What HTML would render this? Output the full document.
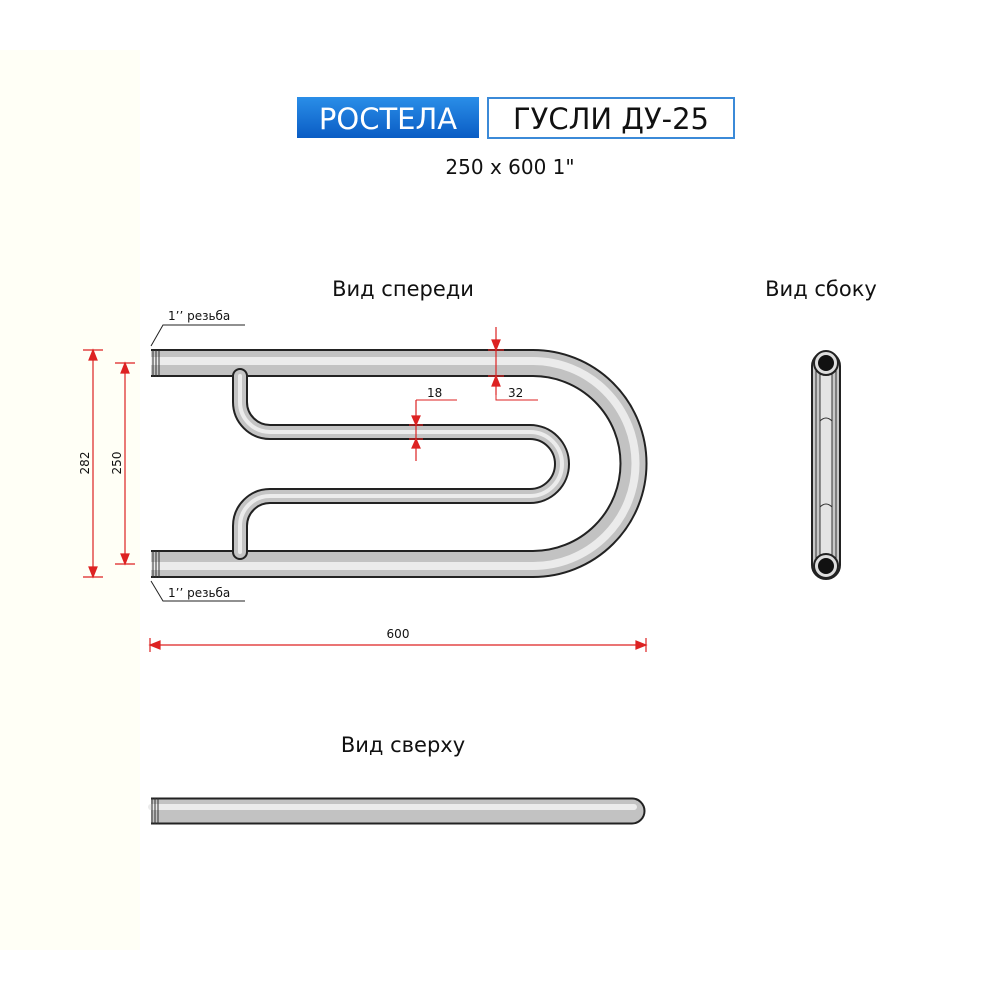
<!DOCTYPE html>
<html><head><meta charset="utf-8"><style>
html,body{margin:0;padding:0;background:#fff;}
svg{display:block;}
text{font-family:"DejaVu Sans","Liberation Sans",sans-serif;}
</style></head><body>
<svg width="1000" height="1000" viewBox="0 0 1000 1000" xmlns="http://www.w3.org/2000/svg">
<rect x="0" y="0" width="1000" height="1000" fill="#fff"/>
<rect x="0" y="50" width="140" height="900" fill="#fffff6"/>
<defs><linearGradient id="bl" x1="0" y1="0" x2="0" y2="1"><stop offset="0" stop-color="#2a8ee8"/><stop offset="1" stop-color="#0a5cc4"/></linearGradient></defs>
<rect x="297" y="97" width="182" height="41" fill="url(#bl)"/>
<text x="388" y="129" font-size="29" fill="#fff" text-anchor="middle">РОСТЕЛА</text>
<rect x="488" y="98" width="246" height="40" fill="#fff" stroke="#3b8ad8" stroke-width="2"/>
<text x="611" y="129" font-size="29" fill="#111" text-anchor="middle">ГУСЛИ ДУ-25</text>
<text x="510" y="174" font-size="20" fill="#111" text-anchor="middle">250 x 600 1"</text>
<text x="403" y="296" font-size="21" fill="#111" text-anchor="middle">Вид спереди</text>
<text x="821" y="296" font-size="21" fill="#111" text-anchor="middle">Вид сбоку</text>
<text x="403" y="752" font-size="21" fill="#111" text-anchor="middle">Вид сверху</text>

<!-- outer U -->
<g fill="none">
<path d="M151 363 H533 A100.5 100.5 0 0 1 533 564 H151" stroke="#222" stroke-width="28"/>
<path d="M151 363 H533 A100.5 100.5 0 0 1 533 564 H151" stroke="#c2c2c2" stroke-width="24"/>
<path d="M151 361 H533 A102.5 102.5 0 0 1 533 566 H151" stroke="#ebebeb" stroke-width="8"/>
</g>
<!-- inner serpentine -->
<g fill="none" stroke-linecap="round">
<path d="M240 376 V402 A30 30 0 0 0 270 432 H530 A32 32 0 0 1 530 496 H270 A30 30 0 0 0 240 526 V552" stroke="#222" stroke-width="16"/>
<path d="M240 376 V402 A30 30 0 0 0 270 432 H530 A32 32 0 0 1 530 496 H270 A30 30 0 0 0 240 526 V552" stroke="#c4c4c4" stroke-width="12"/>
<path d="M240 376 V402 A30 30 0 0 0 270 432 H530 A32 32 0 0 1 530 496 H270 A30 30 0 0 0 240 526 V552" stroke="#ececec" stroke-width="4"/>
</g>
<g stroke="#333" stroke-width="1">
<line x1="153" y1="350" x2="153" y2="377"/><line x1="156" y1="350" x2="156" y2="377"/><line x1="159" y1="350" x2="159" y2="377"/>
<line x1="153" y1="551" x2="153" y2="578"/><line x1="156" y1="551" x2="156" y2="578"/><line x1="159" y1="551" x2="159" y2="578"/>
</g>
<g fill="none" stroke="#222" stroke-width="1">
<polyline points="151,346 163,325 245,325"/>
<polyline points="151,581 163,601 245,601"/>
</g>
<text x="168" y="320" font-size="12" fill="#111">1’’ резьба</text>
<text x="168" y="597" font-size="12" fill="#111">1’’ резьба</text>

<g stroke="#d22" stroke-width="1.2" fill="#d22">
<line x1="93" y1="350" x2="93" y2="577"/>
<line x1="83" y1="350" x2="103" y2="350"/><line x1="83" y1="577" x2="103" y2="577"/>
<polygon points="93,350 89,360 97,360"/><polygon points="93,577 89,567 97,567"/>
<line x1="125" y1="363" x2="125" y2="564"/>
<line x1="115" y1="363" x2="135" y2="363"/><line x1="115" y1="564" x2="135" y2="564"/>
<polygon points="125,363 121,373 129,373"/><polygon points="125,564 121,554 129,554"/>
<line x1="150" y1="645" x2="646" y2="645"/>
<line x1="150" y1="638" x2="150" y2="652"/><line x1="646" y1="638" x2="646" y2="652"/>
<polygon points="150,645 160,641 160,649"/><polygon points="646,645 636,641 636,649"/>
<line x1="496" y1="327" x2="496" y2="395"/>
<line x1="488" y1="350" x2="504" y2="350"/><line x1="488" y1="376" x2="504" y2="376"/>
<polygon points="496,350 492,340 500,340"/><polygon points="496,376 492,386 500,386"/>
<line x1="416" y1="400" x2="416" y2="461"/>
<line x1="409" y1="425" x2="423" y2="425"/><line x1="409" y1="439" x2="423" y2="439"/>
<polygon points="416,425 412,416 420,416"/><polygon points="416,439 412,448 420,448"/>
</g>
<g stroke="#d22" stroke-width="1" fill="none">
<polyline points="496,395 496,400 538,400"/>
<polyline points="416,400 457,400"/>
</g>
<text x="427" y="397" font-size="12" fill="#111">18</text>
<text x="508" y="397" font-size="12" fill="#111">32</text>
<text x="398" y="638" font-size="12" fill="#111" text-anchor="middle">600</text>
<text x="0" y="0" font-size="12" fill="#111" text-anchor="middle" transform="translate(89,463) rotate(-90)">282</text>
<text x="0" y="0" font-size="12" fill="#111" text-anchor="middle" transform="translate(121,463) rotate(-90)">250</text>

<rect x="812" y="352" width="28" height="227" rx="14" fill="#c8c8c8" stroke="#222" stroke-width="2"/>
<line x1="816" y1="365" x2="816" y2="566" stroke="#333" stroke-width="1"/>
<line x1="836" y1="365" x2="836" y2="566" stroke="#333" stroke-width="1"/>
<rect x="820" y="370" width="12" height="192" fill="#e4e4e4" stroke="#333" stroke-width="1"/>
<path d="M820 421 Q826 415 832 421 M820 507 Q826 501 832 507" stroke="#333" fill="none"/>
<circle cx="826" cy="363" r="12" fill="#ddd" stroke="#222" stroke-width="2"/>
<circle cx="826" cy="363" r="8" fill="#111"/>
<circle cx="826" cy="566" r="12" fill="#ddd" stroke="#222" stroke-width="2"/>
<circle cx="826" cy="566" r="8" fill="#111"/>

<g fill="none">
<path d="M151 811 H632" stroke="#222" stroke-width="27"/>
<circle cx="632" cy="811" r="12.5" fill="#c2c2c2" stroke="#222" stroke-width="2"/>
<path d="M151 811 H632" stroke="#c2c2c2" stroke-width="23"/>
<path d="M151 807 H634" stroke="#ebebeb" stroke-width="6" stroke-linecap="round"/>
</g>
<g stroke="#333" stroke-width="1">
<line x1="152" y1="798" x2="152" y2="824"/><line x1="155" y1="798" x2="155" y2="824"/><line x1="158" y1="798" x2="158" y2="824"/>
</g>
</svg>
</body></html>
